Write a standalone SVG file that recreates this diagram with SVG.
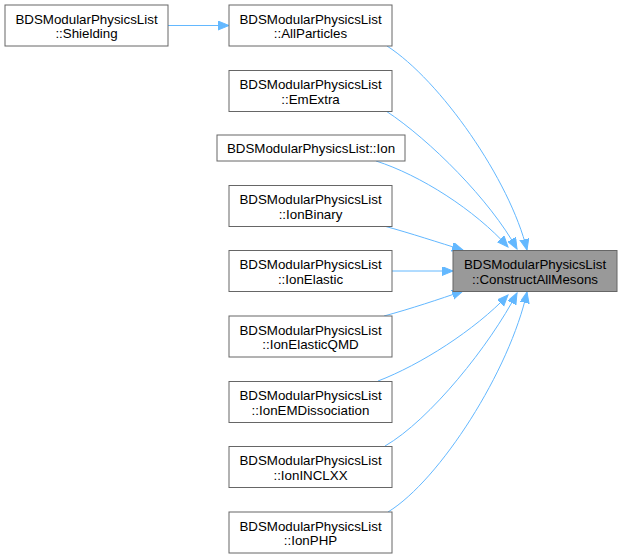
<svg xmlns="http://www.w3.org/2000/svg" width="623" height="558" viewBox="0 0 623 558">
<style>
.box{fill:#ffffff;stroke:#666666;stroke-width:1}
.tgt{fill:#999999;stroke:#666666;stroke-width:1}
text{font-family:"Liberation Sans",Arial,Helvetica,sans-serif;font-size:13.33px;fill:#000000;text-anchor:middle}
.edge{fill:none;stroke:#63b8ff;stroke-width:1;marker-end:url(#arr)}
</style>
<defs>
<marker id="arr" markerUnits="userSpaceOnUse" markerWidth="12" markerHeight="10" viewBox="0 0 12 10" refX="11" refY="4.5" orient="auto">
<path d="M0,0 L11,4.5 L0,9 z" fill="#63b8ff" stroke="#63b8ff" stroke-width="1"/>
</marker>
</defs>
<rect width="623" height="558" fill="#ffffff"/>
<g id="edges">
<path class="edge" d="M168,25.5 L229,25.5"/>
<path class="edge" d="M387,46 C440,80 510,180 527,250"/>
<path class="edge" d="M386,111 C430,140 490,200 517,249"/>
<path class="edge" d="M376,161 C420,175 475,210 508,247"/>
<path class="edge" d="M384,226 C410,233 440,243 463,250"/>
<path class="edge" d="M392,271 L453,271"/>
<path class="edge" d="M384,316 C410,309 440,299 463,291"/>
<path class="edge" d="M378,381 C420,365 475,330 508,295"/>
<path class="edge" d="M385,446 C430,420 490,345 517,293"/>
<path class="edge" d="M388,512 C440,480 510,370 527,292"/>
</g>
<g id="n_shielding"><rect class="box" x="5" y="5" width="163" height="41"/><text x="86.5" y="23.5">BDSModularPhysicsList</text><text x="86.5" y="38">::Shielding</text></g>
<g id="n_allparticles"><rect class="box" x="229" y="5" width="163" height="41"/><text x="310.5" y="23.5">BDSModularPhysicsList</text><text x="310.5" y="38">::AllParticles</text></g>
<g id="n_emextra"><rect class="box" x="229" y="70.5" width="163" height="41"/><text x="310.5" y="89">BDSModularPhysicsList</text><text x="310.5" y="103.5">::EmExtra</text></g>
<g id="n_ion"><rect class="box" x="217" y="135" width="188" height="26"/><text x="311" y="153">BDSModularPhysicsList::Ion</text></g>
<g id="n_ionbinary"><rect class="box" x="229" y="185.5" width="163" height="41"/><text x="310.5" y="204">BDSModularPhysicsList</text><text x="310.5" y="218.5">::IonBinary</text></g>
<g id="n_ionelastic"><rect class="box" x="229" y="250.5" width="163" height="41"/><text x="310.5" y="269">BDSModularPhysicsList</text><text x="310.5" y="283.5">::IonElastic</text></g>
<g id="n_ionelasticqmd"><rect class="box" x="229" y="316" width="163" height="41"/><text x="310.5" y="334.5">BDSModularPhysicsList</text><text x="310.5" y="349">::IonElasticQMD</text></g>
<g id="n_ionemdissociation"><rect class="box" x="229" y="381.5" width="163" height="41"/><text x="310.5" y="400">BDSModularPhysicsList</text><text x="310.5" y="414.5">::IonEMDissociation</text></g>
<g id="n_ioninclxx"><rect class="box" x="229" y="446.5" width="163" height="41"/><text x="310.5" y="465">BDSModularPhysicsList</text><text x="310.5" y="479.5">::IonINCLXX</text></g>
<g id="n_ionphp"><rect class="box" x="229" y="512" width="163" height="41"/><text x="310.5" y="530.5">BDSModularPhysicsList</text><text x="310.5" y="545">::IonPHP</text></g>
<g id="n_target"><rect class="tgt" x="453" y="250.5" width="164" height="41"/><text x="535" y="269">BDSModularPhysicsList</text><text x="535" y="283.5">::ConstructAllMesons</text></g>
</svg>
